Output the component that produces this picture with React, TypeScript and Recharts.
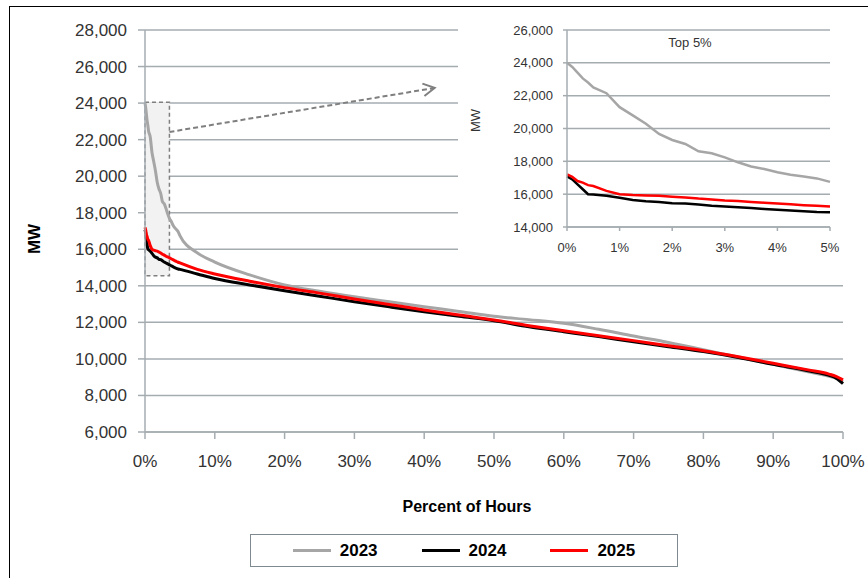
import {
  LineChart,
  Line,
  XAxis,
  YAxis,
  CartesianGrid,
  Legend,
  ReferenceArea,
  ReferenceLine,
} from "recharts";

// top 5% of hours (shared by the main chart and the inset)
const topPct = [0, 0.1, 0.2, 0.3, 0.4, 0.5, 0.75, 1, 1.25, 1.5, 1.75, 2, 2.25, 2.5, 2.75, 3, 3.25, 3.5, 3.75, 4, 4.25, 4.5, 4.75, 5];
const top2023 = [24000, 23750, 23400, 23050, 22800, 22500, 22150, 21300, 20800, 20290, 19670, 19300, 19060, 18610, 18490, 18240, 17940, 17690, 17530, 17330, 17180, 17080, 16960, 16750];
const top2024 = [17080, 16900, 16600, 16300, 16000, 15980, 15900, 15780, 15650, 15570, 15530, 15450, 15430, 15370, 15300, 15250, 15200, 15150, 15100, 15050, 15000, 14960, 14920, 14900];
const top2025 = [17200, 17050, 16800, 16700, 16550, 16500, 16200, 16000, 15950, 15920, 15900, 15850, 15800, 15730, 15680, 15620, 15580, 15530, 15480, 15430, 15380, 15330, 15290, 15250];

// rest of the duration curve
const restPct = [7.5, 10, 15, 20, 25, 30, 35, 40, 45, 50, 55, 60, 65, 70, 75, 80, 85, 90, 95, 98, 99, 100];
const rest2023 = [15800, 15300, 14600, 14050, 13700, 13400, 13130, 12860, 12600, 12330, 12150, 11950, 11620, 11250, 10900, 10500, 10100, 9700, 9300, 9050, 8950, 8750];
const rest2024 = [14650, 14400, 14050, 13730, 13430, 13130, 12850, 12580, 12330, 12090, 11760, 11490, 11220, 10940, 10670, 10400, 10080, 9700, 9350, 9100, 8950, 8650];
const rest2025 = [14900, 14650, 14250, 13900, 13600, 13280, 12980, 12680, 12400, 12130, 11820, 11540, 11270, 11000, 10720, 10450, 10120, 9760, 9400, 9170, 9050, 8850];

const mainXTicks = [0, 10, 20, 30, 40, 50, 60, 70, 80, 90, 100];
const mainYTicks = [6000, 8000, 10000, 12000, 14000, 16000, 18000, 20000, 22000, 24000, 26000, 28000];
const insetXTicks = [0, 1, 2, 3, 4, 5];
const insetYTicks = [14000, 16000, 18000, 20000, 22000, 24000, 26000];

const series = [
  { key: "y2023", name: "2023", color: "#a6a6a6" },
  { key: "y2024", name: "2024", color: "#000000" },
  { key: "y2025", name: "2025", color: "#ff0000" },
];

const topData = topPct.map((p, i) => ({ pct: p, y2023: top2023[i], y2024: top2024[i], y2025: top2025[i] }));
const mainData = [
  ...topData,
  ...restPct.map((p, i) => ({ pct: p, y2023: rest2023[i], y2024: rest2024[i], y2025: rest2025[i] })),
];

const GRID = "#a5acb0";
const FONT = "'Liberation Sans', Arial, sans-serif";
const fmt = (v: number) => v.toLocaleString("en-US");
const pct = (v: number) => `${v}%`;

const Arrow = (props: any) => {
  const { x1, y1, x2, y2 } = props;
  const ang = Math.atan2(y2 - y1, x2 - x1);
  const len = 13;
  const a1 = ang + Math.PI - 0.5;
  const a2 = ang + Math.PI + 0.5;
  return (
    <g>
      <line x1={x1} y1={y1} x2={x2} y2={y2} stroke="#7f7f7f" strokeWidth={2} strokeDasharray="5 3" />
      <polyline
        points={`${x2 + len * Math.cos(a1)},${y2 + len * Math.sin(a1)} ${x2},${y2} ${x2 + len * Math.cos(a2)},${y2 + len * Math.sin(a2)}`}
        fill="none"
        stroke="#7f7f7f"
        strokeWidth={2}
      />
    </g>
  );
};

const LegendBox = ({ payload }: any) => (
  <div
    style={{
      boxSizing: "border-box",
      width: 428,
      height: 33,
      border: "1.5px solid #7f8a90",
      display: "flex",
      alignItems: "center",
      justifyContent: "center",
      gap: 44,
      fontFamily: FONT,
      fontWeight: "bold",
      fontSize: 17,
      color: "#000",
      background: "#fff",
    }}
  >
    {(payload || []).map((entry: any) => (
      <div key={entry.value} style={{ display: "flex", alignItems: "center" }}>
        <span style={{ display: "inline-block", width: 38, height: 3, background: entry.color, marginRight: 9 }} />
        <span>{entry.value}</span>
      </div>
    ))}
  </div>
);

export default function App() {
  return (
    <div style={{ position: "absolute", left: 0, top: 0, width: 868, height: 578, overflow: "hidden", background: "#fff", fontFamily: FONT }}>
      {/* frame */}
      <div style={{ position: "absolute", left: 9, top: 6, width: 900, height: 620, border: "1.5px solid #000" }} />

      {/* main chart */}
      <div style={{ position: "absolute", left: 0, top: 0 }}>
        <LineChart width={868} height={578} data={mainData} margin={{ top: 30, right: 25, bottom: 116, left: 0 }}>
          <CartesianGrid vertical={false} stroke={GRID} strokeWidth={1.5} />
          <XAxis
            dataKey="pct"
            type="number"
            domain={[0, 100]}
            ticks={mainXTicks}
            tickFormatter={pct}
            height={30}
            stroke={GRID}
            strokeWidth={1.5}
            tickSize={7}
            tickMargin={16}
            tick={{ fill: "#333", fontSize: 17 }}
            label={{ value: "Percent of Hours", position: "center", dx: -27, dy: 59, fill: "#000", fontSize: 16, fontWeight: "bold" }}
          />
          <YAxis
            type="number"
            domain={[6000, 28000]}
            ticks={mainYTicks}
            tickFormatter={fmt}
            width={145}
            stroke={GRID}
            strokeWidth={1.5}
            tickSize={7}
            tickMargin={11}
            tick={{ fill: "#333", fontSize: 17 }}
            label={{ value: "MW", angle: -90, position: "center", dx: -39, dy: 8, fill: "#000", fontSize: 17, fontWeight: "bold" }}
          />
          <ReferenceArea
            x1={0}
            x2={3.5}
            y1={14550}
            y2={24050}
            fill="#f2f2f2"
            fillOpacity={1}
            stroke="#7f7f7f"
            strokeWidth={1.5}
            strokeDasharray="4 3"
          />
          <ReferenceLine
            segment={[
              { x: 3.5, y: 22420 },
              { x: 41.5, y: 24830 },
            ]}
            shape={Arrow}
          />
          {series.map((s) => (
            <Line
              key={s.key}
              type="monotone"
              dataKey={s.key}
              name={s.name}
              stroke={s.color}
              strokeWidth={3}
              dot={false}
              isAnimationActive={false}
            />
          ))}
          <Legend
            layout="horizontal"
            verticalAlign="middle"
            align="center"
            content={<LegendBox />}
            wrapperStyle={{ left: 250, top: 534, width: 428, height: 33 }}
          />
        </LineChart>
      </div>

      {/* inset: top 5% */}
      <div style={{ position: "absolute", left: 458, top: 8, width: 408, height: 256, background: "#fff" }}>
        <LineChart width={408} height={256} data={topData} margin={{ top: 22, right: 36, bottom: 7, left: 0 }}>
          <CartesianGrid vertical={false} stroke={GRID} strokeWidth={1.5} />
          <XAxis
            dataKey="pct"
            type="number"
            domain={[0, 5]}
            ticks={insetXTicks}
            tickFormatter={pct}
            height={30}
            stroke={GRID}
            strokeWidth={1.5}
            tickSize={4}
            tickMargin={12}
            tick={{ fill: "#333", fontSize: 13 }}
          />
          <YAxis
            type="number"
            domain={[14000, 26000]}
            ticks={insetYTicks}
            tickFormatter={fmt}
            width={109}
            stroke={GRID}
            strokeWidth={1.5}
            tickSize={4}
            tickMargin={10}
            tick={{ fill: "#333", fontSize: 13 }}
            label={{ value: "MW", angle: -90, position: "center", dx: -37, dy: -8, fill: "#333", fontSize: 13 }}
          />
          {series.map((s) => (
            <Line
              key={s.key}
              type="linear"
              dataKey={s.key}
              name={s.name}
              stroke={s.color}
              strokeWidth={2.5}
              dot={false}
              isAnimationActive={false}
            />
          ))}
        </LineChart>
        <div style={{ position: "absolute", left: 182, top: 27, width: 100, textAlign: "center", fontSize: 13, color: "#333" }}>
          Top 5%
        </div>
      </div>
    </div>
  );
}
